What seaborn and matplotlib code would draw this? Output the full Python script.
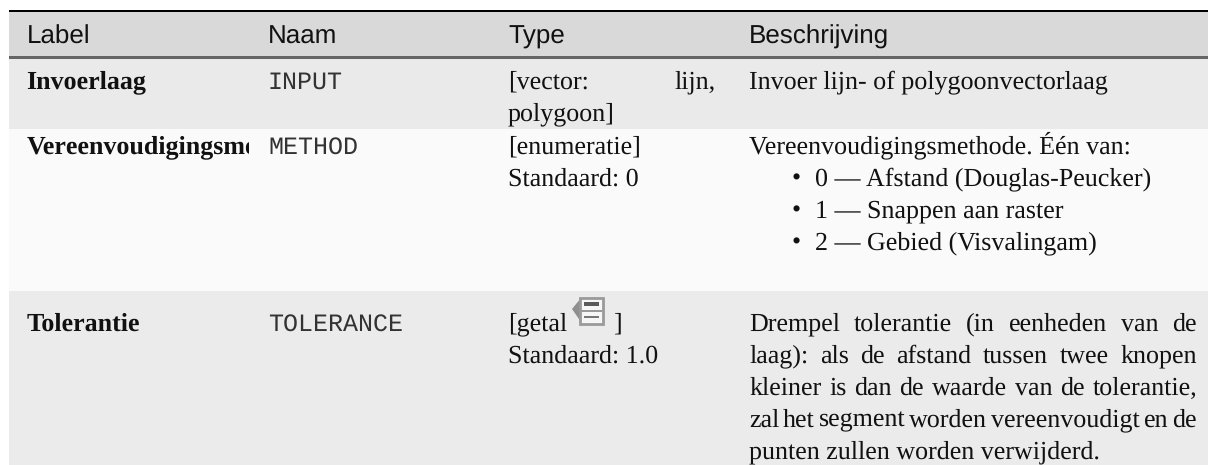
# table figure drawn on a seaborn heatmap, one heatmap cell = one pixel
import numpy as np
import seaborn as sns
import matplotlib
matplotlib.use("Agg")
import matplotlib.pyplot as plt
from matplotlib.patches import Polygon, Rectangle
from matplotlib.transforms import Bbox, TransformedBbox

W, H = 1208, 465

# horizontal stripes of the table (grey level, height in px)
stripe_shades = [1.0, 0.0, 0.85, 0.40, 0.915, 0.98, 0.92]
stripe_heights = [10, 2, 44, 3, 70, 162, 174]

headers = ["Label", "Naam", "Type", "Beschrijving"]
# the second label is cut off by its column in the picture
labels = ["Invoerlaag", "Vereenvoudigingsme", "Tolerantie"]
names = ["INPUT", "METHOD", "TOLERANCE"]
type_lines = [["[vector: lijn,", "polygoon]"],
              ["[enumeratie]", "Standaard: 0"],
              ["[getal", "Standaard: 1.0"]]
desc_row1 = "Invoer lijn- of polygoonvectorlaag"
desc_row2 = "Vereenvoudigingsmethode. Één van:"
bullets = ["0 — Afstand (Douglas-Peucker)", "1 — Snappen aan raster", "2 — Gebied (Visvalingam)"]
desc_row3 = ["Drempel tolerantie (in eenheden van de",
             "laag): als de afstand tussen twee knopen",
             "kleiner is dan de waarde van de tolerantie,",
             "zal het segment worden vereenvoudigt en de",
             "punten zullen worden verwijderd."]

SANS = "Liberation Sans"
SERIF = "Liberation Serif"
MONO = "Liberation Mono"
BODY = 18.45
COL = [27, 268, 508, 749]

sns.set_theme(style="white")
plt.rcParams["text.hinting"] = "no_hinting"
plt.rcParams["text.hinting_factor"] = 1
fig = plt.figure(figsize=(W / 100, H / 100), dpi=100)
ax = fig.add_axes([0, 0, 1, 1])

strip = np.repeat(stripe_shades, stripe_heights)
grid = np.tile(strip[:, None], (1, W))
grid[:, :9] = 1.0
sns.heatmap(grid, ax=ax, cmap="gray", vmin=0, vmax=1, cbar=False,
            xticklabels=False, yticklabels=False)
ax.set_xlim(0, W)
ax.set_ylim(H, 0)


def put(x, y, s, family=SERIF, size=BODY, color="#111111", **kw):
    return ax.text(x, y, s, family=family, fontsize=size, color=color, va="baseline", **kw)


def justify(x0, x1, y, line):
    # spread the words of one line between x0 and x1
    words = line.split(" ")
    rend = fig.canvas.get_renderer()
    items = [put(x0, y, w) for w in words]
    widths = [t.get_window_extent(rend).width for t in items]
    gap = (x1 - x0 - sum(widths)) / (len(words) - 1)
    x = x0
    for t, w in zip(items, widths):
        t.set_x(x)
        x += w + gap


# header
for x, s in zip(COL, headers):
    put(x, 43.5, s, family=SANS, size=18.6)

# first column, bold, clipped at the column edge
for y, s in zip([88.5, 153.5, 330.5], labels):
    t = put(26.5, y, s, size=18.5, weight="bold")
    t.set_clip_box(TransformedBbox(Bbox([[0, 0], [249, H]]), ax.transData))
    t.set_clip_on(True)

for y, s in zip([88.5, 153.5, 330.5], names):
    put(COL[1], y, s, family=MONO, size=18.2, color="#333333")

# type column
justify(COL[2], 716, 88.5, type_lines[0][0])
put(COL[2], 120.5, type_lines[0][1])
put(COL[2], 153.5, type_lines[1][0])
put(COL[2], 185.5, type_lines[1][1])
put(COL[2], 330.5, type_lines[2][0])
put(COL[2], 362.5, type_lines[2][1])
put(613, 330.5, "]")

# description column
put(COL[3], 88.5, desc_row1)
put(COL[3], 153.5, desc_row2)
for y, s in zip([185.5, 217.5, 249.5], bullets):
    put(792, y, "•")
    put(815, y, s)
for i, line in enumerate(desc_row3):
    y = 330.5 + i * 32
    if i < 4:
        justify(COL[3], 1197, y, line)
    else:
        put(COL[3], y, line)

# small "data defined" icon next to [getal
ax.add_patch(Polygon([[581, 298], [572, 309], [581, 322]], fc="#8f8f8f", ec="none"))
ax.add_patch(Rectangle((580, 298), 23, 26, fc="#f6f6f6", ec="#9a9a9a", lw=2))
ax.add_patch(Rectangle((581, 310), 21, 1.5, fc="#9a9a9a", ec="none"))
ax.add_patch(Rectangle((584, 302), 15, 4, fc="#5a5a5a", ec="none"))
ax.add_patch(Rectangle((584, 316), 15, 2, fc="#777777", ec="none"))

fig.savefig("out.png", dpi=100)
